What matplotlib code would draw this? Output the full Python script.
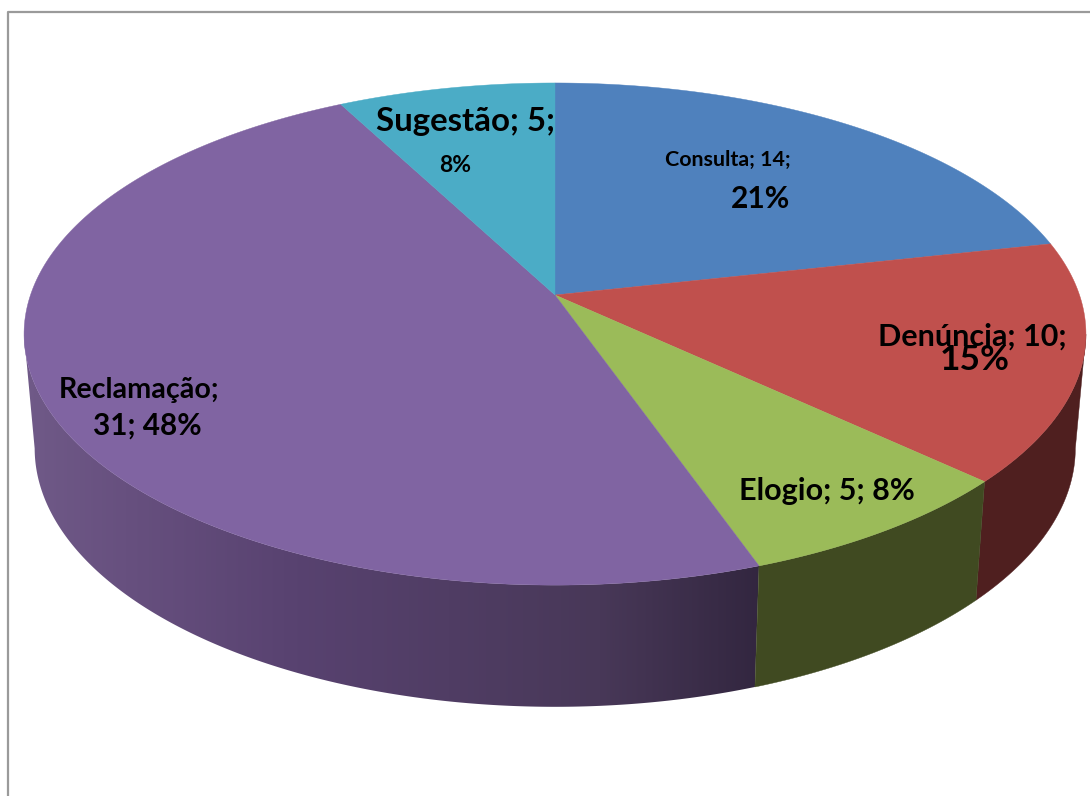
import numpy as np
import matplotlib
matplotlib.use('Agg')
import matplotlib.pyplot as plt
from matplotlib.colors import LinearSegmentedColormap
from matplotlib.patches import Polygon

# data
categories = ['Consulta', 'Denúncia', 'Elogio', 'Reclamação', 'Sugestão']
values = [14, 10, 5, 31, 5]
percents = ['21%', '15%', '8%', '48%', '8%']

top_colors = ['#4f81bd', '#c0504d', '#9bbb59', '#8064a2', '#4bacc6']
side_colors = ['#4f81bd', '#4f1f1f', '#404a21', None, '#4bacc6']

plt.rcParams['font.family'] = ['Lato', 'DejaVu Sans']

# the pie is a flat disc seen in perspective, everything in pixels of the image
cx, cy = 555, 295
rad_x, rad_y = 524.5, 245
persp = 0.1555
depth_y = 408
depth_sx, depth_sy = 0.98, 1.03
# the disc side is only visible between these two angles
side_from, side_to = 99, 261


def top_edge(t):
    t = np.radians(t)
    d = 1 + persp * np.cos(t)
    return cx + rad_x * np.sin(t) / d, cy - rad_y * np.cos(t) / d


def bottom_edge(t):
    t = np.radians(t)
    d = 1 + persp * np.cos(t)
    return cx + depth_sx * rad_x * np.sin(t) / d, depth_y - depth_sy * rad_y * np.cos(t) / d


fig = plt.figure(figsize=(10.9, 7.96), dpi=100)
ax = fig.add_axes([0, 0, 1, 1])

angles = np.cumsum([0] + values) / sum(values) * 360

# side of the disc first, beneath the top
for i in range(len(values)):
    a0 = max(angles[i], side_from)
    a1 = min(angles[i + 1], side_to)
    if a0 >= a1:
        continue
    t = np.linspace(a0, a1, 200)
    x0, y0 = top_edge(t)
    x1, y1 = bottom_edge(t[::-1])
    pts = np.column_stack([np.r_[x0, x1], np.r_[y0, y1]])
    if side_colors[i] is not None:
        ax.add_patch(Polygon(pts, fc=side_colors[i], ec=side_colors[i], lw=0.3, zorder=1.5))
    else:
        # reclamacao has the shaded side, lighter to the left
        poly = Polygon(pts, fc='none', ec='none')
        ax.add_patch(poly)
        cmap = LinearSegmentedColormap.from_list('side', [
            (0.0, '#705a88'), (0.14, '#67507f'), (0.37, '#584270'),
            (0.78, '#483858'), (1.0, '#32263f')])
        im = ax.imshow(np.linspace(0, 1, 400).reshape(1, -1), cmap=cmap,
                       extent=[20, 765, 720, 320], aspect='auto', zorder=1)
        im.set_clip_path(poly)

# top of the disc
for i in range(len(values)):
    t = np.linspace(angles[i], angles[i + 1], 200)
    x, y = top_edge(t)
    pts = np.column_stack([np.r_[cx, x], np.r_[cy, y]])
    ax.add_patch(Polygon(pts, fc=top_colors[i], ec=top_colors[i], lw=0.3, zorder=2))

# labels, same odd sizes and line breaks as in the picture
label_kw = dict(color='black', fontweight='bold', ha='center', va='center', zorder=3)
ax.text(728, 160, f'{categories[0]}; {values[0]};', fontsize=15.4, **label_kw)
ax.text(760, 199, percents[0], fontsize=21.5, **label_kw)
ax.text(972, 337, f'{categories[1]}; {values[1]};', fontsize=22, **label_kw)
ax.text(975, 360, percents[1], fontsize=25.5, **label_kw)
ax.text(827, 491, f'{categories[2]}; {values[2]}; {percents[2]}', fontsize=22, **label_kw)
ax.text(139, 390, f'{categories[3]};', fontsize=20.6, **label_kw)
ax.text(147, 426, f'{values[3]}; {percents[3]}', fontsize=21.4, **label_kw)
ax.text(466, 121, f'{categories[4]}; {values[4]};', fontsize=23.8, **label_kw)
ax.text(455, 165, percents[4], fontsize=16.5, **label_kw)

# chart frame, cut off at the right and at the bottom
ax.plot([8, 8, 1090], [796, 12, 12], color='#9a9a9a', lw=1.6, zorder=0)

ax.set_xlim(0, 1090)
ax.set_ylim(796, 0)
ax.axis('off')

fig.savefig('out.png', dpi=100)
